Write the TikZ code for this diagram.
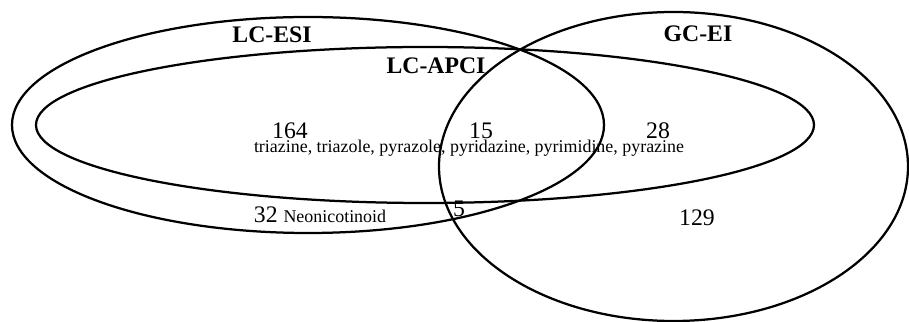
\documentclass[tikz,border=0pt]{standalone}
\usepackage{fontspec}
\setmainfont{Liberation Serif}
\usepackage{tikz}
\tikzset{
	setline/.style={line width=0.45mm, color=black},
	setname/.style={anchor=base, inner sep=0pt, font=\bfseries\fontsize{13.5}{16}\selectfont},
	count/.style={anchor=base, inner sep=0pt, font=\fontsize{13.5}{16}\selectfont},
	cmpd/.style={anchor=base, inner sep=0pt, font=\fontsize{10.2}{12}\selectfont}
}

\begin{document}
\begin{tikzpicture}
			\useasboundingbox (0, 0) rectangle (18.18, 6.44);
			%%%%% SETS %%%%%
			
			\draw[setline] (6.16, 3.94) ellipse (5.92 and 2.16);
			\draw[setline] (8.50, 3.94) ellipse (7.78 and 1.56);
			\draw[setline] (13.47, 3.11) ellipse (4.69 and 3.09);
			
			\node[setname] (esi) at (5.44, 5.58) {LC-ESI};
			\node[setname] (apci) at (8.72, 4.96) {LC-APCI};
			\node[setname] (gcei) at (13.96, 5.60) {GC-EI};
			
			%%%%% COUNTS %%%%%
			
			\node[count] (n164) at (5.80, 3.66) {164};
			\node[count] (n15) at (9.62, 3.66) {15};
			\node[count] (n28) at (13.16, 3.66) {28};
			\node[cmpd] (azines) at (9.38, 3.38) {triazine, triazole, pyrazole, pyridazine, pyrimidine, pyrazine};
			
			\node[count] (n32) at (6.40, 1.98) {32 {\fontsize{10.2}{12}\selectfont Neonicotinoid}};
			\node[count] (n5) at (9.18, 2.10) {5};
			\node[count] (n129) at (13.94, 1.92) {129};
			
			%%%%% END %%%%%
\end{tikzpicture}
\end{document}
